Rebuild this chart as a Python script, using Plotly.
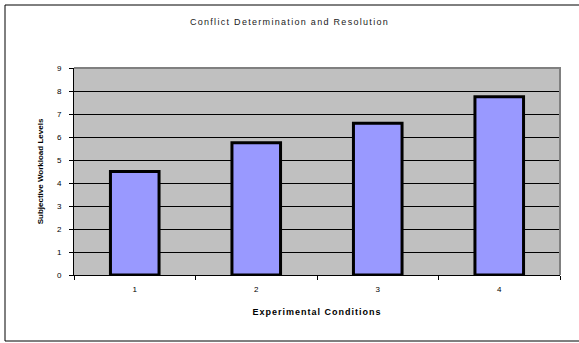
import plotly.graph_objects as go

categories = ["1", "2", "3", "4"]
workload = [4.5, 5.75, 6.6, 7.75]
y_ticks = [0, 1, 2, 3, 4, 5, 6, 7, 8, 9]

W, H = 579, 343
L, R, T, B = 74, 19, 68, 68
pw, ph = W - L - R, H - T - B

def px_x(p):
    return (p - L) / pw

def px_y(p):
    return (H - B - p) / ph

fig = go.Figure(go.Bar(
    x=categories, y=workload,
    marker=dict(color="#9999FF", line=dict(color="#000000", width=3)),
    width=0.4,
))

frame_path = (f"M {px_x(579)},{px_y(5)} L {px_x(5)},{px_y(5)} "
              f"L {px_x(5)},{px_y(341)} L {px_x(579)},{px_y(341)}")

fig.update_layout(
    width=W, height=H,
    margin=dict(l=L, r=R, t=T, b=B),
    paper_bgcolor="white",
    plot_bgcolor="#C0C0C0",
    showlegend=False,
    font=dict(family="Liberation Sans, Arial", color="#000000", size=8),
    title=dict(text='<span style="letter-spacing:1.3px">Conflict Determination and Resolution</span>',
               x=0.5, xref="container",
               y=1 - 22 / H, yref="container", yanchor="middle",
               font=dict(size=9, color="#222222")),
    xaxis=dict(
        type="category", range=[-0.5, 3.5],
        showline=True, linecolor="#000000", linewidth=1,
        ticks="outside", tickson="boundaries", ticklen=4, tickcolor="#000000",
        ticklabelstandoff=6,
        showgrid=False,
        title=dict(text='<b><span style="letter-spacing:1px">Experimental Conditions</span></b>',
                   font=dict(size=9), standoff=16),
        tickfont=dict(size=8),
    ),
    yaxis=dict(
        range=[0, 9], tickvals=y_ticks,
        showline=True, linecolor="#000000", linewidth=1,
        ticks="outside", ticklen=4, tickcolor="#000000",
        ticklabelstandoff=6,
        showgrid=True, gridcolor="#000000", gridwidth=1,
        zeroline=False,
        title=dict(text="<b>Subjective Workload Levels</b>", font=dict(size=8), standoff=12),
        tickfont=dict(size=8),
    ),
    shapes=[
        dict(type="path", xref="paper", yref="paper",
             path="M 0,1 L 1,1 L 1,0",
             line=dict(color="#808080", width=2), layer="above"),
        dict(type="path", xref="paper", yref="paper", path=frame_path,
             line=dict(color="#000000", width=1), layer="below"),
    ],
)

fig.write_html("out.html", config={"displayModeBar": False},
               post_script="document.body.style.margin='0';document.body.style.overflow='hidden';")
